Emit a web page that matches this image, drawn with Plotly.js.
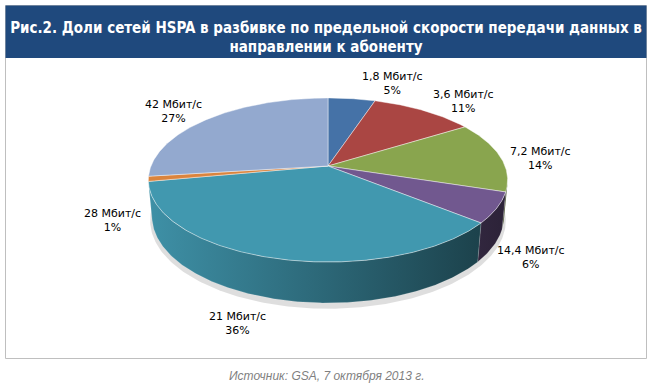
<!DOCTYPE html>
<html><head><meta charset="utf-8">
<script src="https://cdn.plot.ly/plotly-3.0.1.min.js"></script>
<style>html,body{margin:0;padding:0;background:#fff;}</style>
</head><body>
<div id="chart" style="width:652px;height:387px"></div>
<script>
// ---- data ----
const categories = ['1,8 Мбит/с', '3,6 Мбит/с', '7,2 Мбит/с', '14,4 Мбит/с', '21 Мбит/с', '28 Мбит/с', '42 Мбит/с'];
const shares = [5, 11, 14, 6, 36, 1, 27];
const titleText = 'Рис.2. Доли сетей HSPA в разбивке по предельной скорости передачи данных в<br>направлении к абоненту';
const sourceText = 'Источник: GSA, 7 октября 2013 г.';

// ---- styles / layout positions ----
const topColors = ['#4572a7', '#aa4643', '#89a54e', '#71588f', '#4198af', '#db843d', '#93a9cf'];
const labelPos = [[392, 83], [463, 101], [540, 158], [531, 257], [237, 323], [112, 220], [173, 111]];

// 3D perspective geometry (pixel space)
const G = {cx: 328, cy: 166, f: 926.8, D: 5.236, sinP: 0.45, cosP: 0.893, H: 0.232};
function proj(theta, r, h) {
  const x = r * Math.sin(theta), z = r * Math.cos(theta);
  const sy = z * G.sinP + h * G.cosP;
  const dep = z * G.cosP - h * G.sinP + G.D;
  return [G.cx + G.f * x / dep, G.cy - G.f * sy / dep];
}
function hex2rgb(h){return [parseInt(h.substr(1,2),16),parseInt(h.substr(3,2),16),parseInt(h.substr(5,2),16)];}
function shade(h, k){const c=hex2rgb(h).map(v=>Math.round(v*k));return 'rgb('+c.join(',')+')';}

const total = shares.reduce((a, b) => a + b, 0);
const traces = [];

// soft shadow under the pie
(function(){
  const xs=[], ys=[];
  for (let i=0;i<=360;i++){const p=proj(i*Math.PI/180,1.012,-G.H-0.025);xs.push(p[0]);ys.push(p[1]);}
  traces.push({x:xs,y:ys,mode:'lines',fill:'toself',fillcolor:'rgba(0,0,0,0.13)',line:{width:0},hoverinfo:'skip',showlegend:false});
})();

// visible side range
const cosLim = -1 / (G.D * G.cosP);
const visA = Math.acos(cosLim), visB = 2 * Math.PI - Math.acos(cosLim);

let acc = 0;
const angles = shares.map(v => { const a1 = acc / total * 2 * Math.PI; acc += v; return [a1, acc / total * 2 * Math.PI]; });

// side walls
angles.forEach(([a1, a2], i) => {
  const s = Math.max(a1, visA), e = Math.min(a2, visB);
  if (e <= s) return;
  const n = Math.max(4, Math.ceil((e - s) / 0.01));
  const xs = [], ys = [];
  for (let k = 0; k <= n; k++) { const p = proj(s + (e - s) * k / n, 1, 0); xs.push(p[0]); ys.push(p[1]); }
  for (let k = n; k >= 0; k--) { const p = proj(s + (e - s) * k / n, 1, -G.H); xs.push(p[0]); ys.push(p[1]); }
  xs.push(xs[0]); ys.push(ys[0]);
  const c = topColors[i];
  traces.push({
    x: xs, y: ys, mode: 'lines', fill: 'toself',
    fillcolor: shade(c, 0.6),
    fillgradient: {type: 'horizontal', start: 150, stop: 500,
      colorscale: [[0, shade(c, 0.95)], [0.5, shade(c, 0.68)], [1, shade(c, 0.4)]]},
    line: {width: 0.6, color: 'rgba(255,255,255,0.25)'},
    hoverinfo: 'skip', showlegend: false
  });
});

// top faces
angles.forEach(([a1, a2], i) => {
  const c0 = proj(0, 0, 0);
  const n = Math.max(3, Math.ceil((a2 - a1) / 0.01));
  const xs = [c0[0]], ys = [c0[1]];
  for (let k = 0; k <= n; k++) { const p = proj(a1 + (a2 - a1) * k / n, 1, 0); xs.push(p[0]); ys.push(p[1]); }
  xs.push(c0[0]); ys.push(c0[1]);
  traces.push({
    x: xs, y: ys, mode: 'lines', fill: 'toself', fillcolor: topColors[i],
    line: {width: 0.8, color: 'rgba(255,255,255,0.55)'},
    name: categories[i], text: categories[i] + ': ' + shares[i] + '%', hoverinfo: 'text', showlegend: false
  });
});

const annotations = categories.map((c, i) => ({
  x: labelPos[i][0], y: labelPos[i][1], xref: 'x', yref: 'y',
  text: c + '<br>' + shares[i] + '%', showarrow: false,
  xanchor: 'center', yanchor: 'middle', align: 'center',
  font: {family: 'DejaVu Sans', size: 11, color: '#000'}
}));
annotations.push({
  x: 326, y: 376, xref: 'x', yref: 'y', text: sourceText, showarrow: false,
  xanchor: 'center', yanchor: 'middle',
  font: {family: 'Liberation Sans', size: 12, color: '#7f7f7f', style: 'italic'}
});

const layout = {
  width: 652, height: 387,
  margin: {l: 0, r: 0, t: 0, b: 0, pad: 0},
  paper_bgcolor: '#fff', plot_bgcolor: '#fff',
  xaxis: {range: [0, 652], visible: false, fixedrange: true},
  yaxis: {range: [387, 0], visible: false, fixedrange: true},
  title: {text: titleText, x: 0.5, xanchor: 'center', xref: 'paper', yref: 'container', y: 1 - 32.5 / 387, yanchor: 'middle',
    font: {family: 'DejaVu Sans Condensed, DejaVu Sans', size: 15, color: '#ffffff', weight: 'bold'}},
  shapes: [
    {type: 'rect', xref: 'x', yref: 'y', x0: 5.5, x1: 646.5, y0: 5.5, y1: 358.5, line: {color: '#bfbfbf', width: 1}, fillcolor: 'rgba(0,0,0,0)', layer: 'below'},
    {type: 'rect', xref: 'x', yref: 'y', x0: 5.5, x1: 646.5, y0: 5.5, y1: 58, line: {width: 0}, fillcolor: '#1f497d', layer: 'below'}
  ],
  annotations: annotations,
  showlegend: false
};

Plotly.newPlot('chart', traces, layout, {displayModeBar: false, staticPlot: true});
</script>
</body></html>
